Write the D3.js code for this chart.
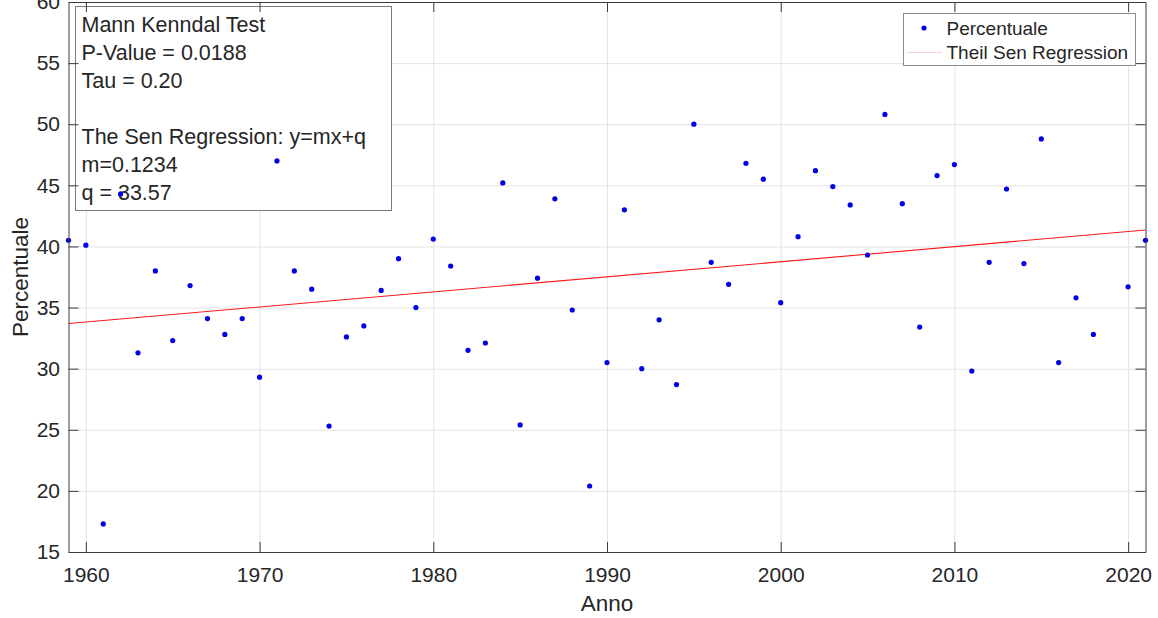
<!DOCTYPE html>
<html>
<head>
<meta charset="utf-8">
<script src="https://cdn.jsdelivr.net/npm/d3@7"></script>
<style>
  body { margin: 0; background: #fff; }
  text { font-family: "Liberation Sans", Arial, sans-serif; fill: #262626; }
</style>
</head>
<body>
<div id="chart"></div>
<script>
/* Percentuale per anno, Mann Kendall + Theil Sen */

const years = [1959, 1960, 1961, 1962, 1963, 1964, 1965, 1966, 1967, 1968,
               1969, 1970, 1971, 1972, 1973, 1974, 1975, 1976, 1977, 1978,
               1979, 1980, 1981, 1982, 1983, 1984, 1985, 1986, 1987, 1988,
               1989, 1990, 1991, 1992, 1993, 1994, 1995, 1996, 1997, 1998,
               1999, 2000, 2001, 2002, 2003, 2004, 2005, 2006, 2007, 2008,
               2009, 2010, 2011, 2012, 2013, 2014, 2015, 2016, 2017, 2018,
               2020, 2021];

const percentuale = [40.5, 40.1, 17.3, 44.3, 31.3, 38.0, 32.3, 36.8, 34.1, 32.8,
                     34.1, 29.3, 47.0, 38.0, 36.5, 25.3, 32.6, 33.5, 36.4, 39.0,
                     35.0, 40.6, 38.4, 31.5, 32.1, 45.2, 25.4, 37.4, 43.9, 34.8,
                     20.4, 30.5, 43.0, 30.0, 34.0, 28.7, 50.0, 38.7, 36.9, 46.8,
                     45.5, 35.4, 40.8, 46.2, 44.9, 43.4, 39.3, 50.8, 43.5, 33.4,
                     45.8, 46.7, 29.8, 38.7, 44.7, 38.6, 48.8, 30.5, 35.8, 32.8,
                     36.7, 40.5];

// Theil Sen line ends
const senYears = [1959, 2021];
const senValues = [33.69, 41.34];

const xTicks = [1960, 1970, 1980, 1990, 2000, 2010, 2020];
const yTicks = [15, 20, 25, 30, 35, 40, 45, 50, 55, 60];

const infoLines = ["Mann Kenndal Test", "P-Value = 0.0188", "Tau = 0.20", "",
                   "The Sen Regression: y=mx+q", "m=0.1234", "q = 33.57"];
const legendLabels = ["Percentuale", "Theil Sen Regression"];

const data = years.map((d, i) => ({ year: d, value: percentuale[i] }));
const sen = senYears.map((d, i) => ({ year: d, value: senValues[i] }));

const width = 1158,
      height = 618,
      margin = ({ top: 2, right: 12.5, bottom: 66, left: 68.5 });

let svg = d3.select("#chart")
    .append("svg")
    .attr("width", width)
    .attr("height", height);

let x = d3.scaleLinear()
    .domain([1959, 2021])
    .range([margin.left, width - margin.right]);

let y = d3.scaleLinear()
    .domain([15, 60])
    .range([height - margin.bottom, margin.top]);

const plotW = width - margin.right - margin.left,
      plotH = height - margin.bottom - margin.top;

// grid lines
svg.append("g")
    .attr("class", "grid")
    .attr("transform", `translate(0,${height - margin.bottom})`)
    .call(d3.axisBottom(x).tickValues(xTicks).tickSize(-plotH).tickFormat(""))
    .call(g => g.select(".domain").remove())
    .call(g => g.selectAll("line").attr("stroke", "#e3e3e3"));

svg.append("g")
    .attr("class", "grid")
    .attr("transform", `translate(${margin.left},0)`)
    .call(d3.axisLeft(y).tickValues(yTicks).tickSize(-plotW).tickFormat(""))
    .call(g => g.select(".domain").remove())
    .call(g => g.selectAll("line").attr("stroke", "#e3e3e3"));

// regression line
svg.append("path")
    .datum(sen)
    .attr("fill", "none")
    .attr("stroke", "#ff1a1a")
    .attr("stroke-width", 1.1)
    .attr("d", d3.line().x(d => x(d.year)).y(d => y(d.value)));

// text box with the test results
let info = svg.append("g").attr("class", "info");

info.append("rect")
    .attr("x", 75.5)
    .attr("y", 6.5)
    .attr("width", 316)
    .attr("height", 204)
    .attr("fill", "#fff")
    .attr("stroke", "#7a7a7a");

info.selectAll("text")
    .data(infoLines)
    .join("text")
    .attr("x", 81.5)
    .attr("y", (d, i) => 32.3 + i * 28)
    .style("font-size", "21.5px")
    .text(d => d);

// points
svg.append("g")
    .selectAll("circle")
    .data(data)
    .join("circle")
    .attr("cx", d => x(d.year))
    .attr("cy", d => y(d.value))
    .attr("r", 2.6)
    .attr("fill", "#0000e6");

// axes, ticks point inward like matlab
const axisStyle = g => {
    g.select(".domain").attr("stroke", "#3c3c3c");
    g.selectAll(".tick line").attr("stroke", "#3c3c3c");
    g.selectAll(".tick text")
        .style("font-size", "21px")
        .style("font-family", "'Liberation Sans', Arial, sans-serif")
        .attr("fill", "#262626");
};

svg.append("g")
    .attr("transform", `translate(0,${height - margin.bottom})`)
    .call(d3.axisBottom(x).tickValues(xTicks).tickFormat(d3.format("d"))
        .tickSizeInner(-10).tickSizeOuter(0).tickPadding(15))
    .call(axisStyle);

svg.append("g")
    .attr("transform", `translate(${margin.left},0)`)
    .call(d3.axisLeft(y).tickValues(yTicks)
        .tickSizeInner(-10).tickSizeOuter(0).tickPadding(8.5))
    .call(axisStyle);

svg.append("g")
    .attr("transform", `translate(0,${margin.top})`)
    .call(d3.axisTop(x).tickValues(xTicks).tickFormat("")
        .tickSizeInner(-10).tickSizeOuter(0))
    .call(axisStyle);

svg.append("g")
    .attr("transform", `translate(${width - margin.right},0)`)
    .call(d3.axisRight(y).tickValues(yTicks).tickFormat("")
        .tickSizeInner(-10).tickSizeOuter(0))
    .call(axisStyle);

// legend
let legend = svg.append("g").attr("class", "legend");

legend.append("rect")
    .attr("x", 903.5)
    .attr("y", 13.5)
    .attr("width", 232)
    .attr("height", 52)
    .attr("fill", "#fff")
    .attr("stroke", "#8c8c8c");

legend.append("circle")
    .attr("cx", 924)
    .attr("cy", 28)
    .attr("r", 2.6)
    .attr("fill", "#0000e6");

legend.append("line")
    .attr("x1", 907)
    .attr("x2", 942)
    .attr("y1", 52.5)
    .attr("y2", 52.5)
    .attr("stroke", "#f3d6d6")
    .attr("stroke-width", 1);

legend.selectAll(".lab")
    .data(legendLabels)
    .join("text")
    .attr("class", "lab")
    .attr("x", 946.5)
    .attr("y", (d, i) => 34.5 + i * 24.5)
    .style("font-size", "19px")
    .text(d => d);

// axis labels
svg.append("text")
    .attr("text-anchor", "middle")
    .attr("x", margin.left + plotW / 2)
    .attr("y", 611)
    .style("font-size", "22.5px")
    .text("Anno");

svg.append("text")
    .attr("text-anchor", "middle")
    .attr("transform", `translate(27.5,${margin.top + plotH / 2}) rotate(-90)`)
    .style("font-size", "22.5px")
    .text("Percentuale");
</script>
</body>
</html>
